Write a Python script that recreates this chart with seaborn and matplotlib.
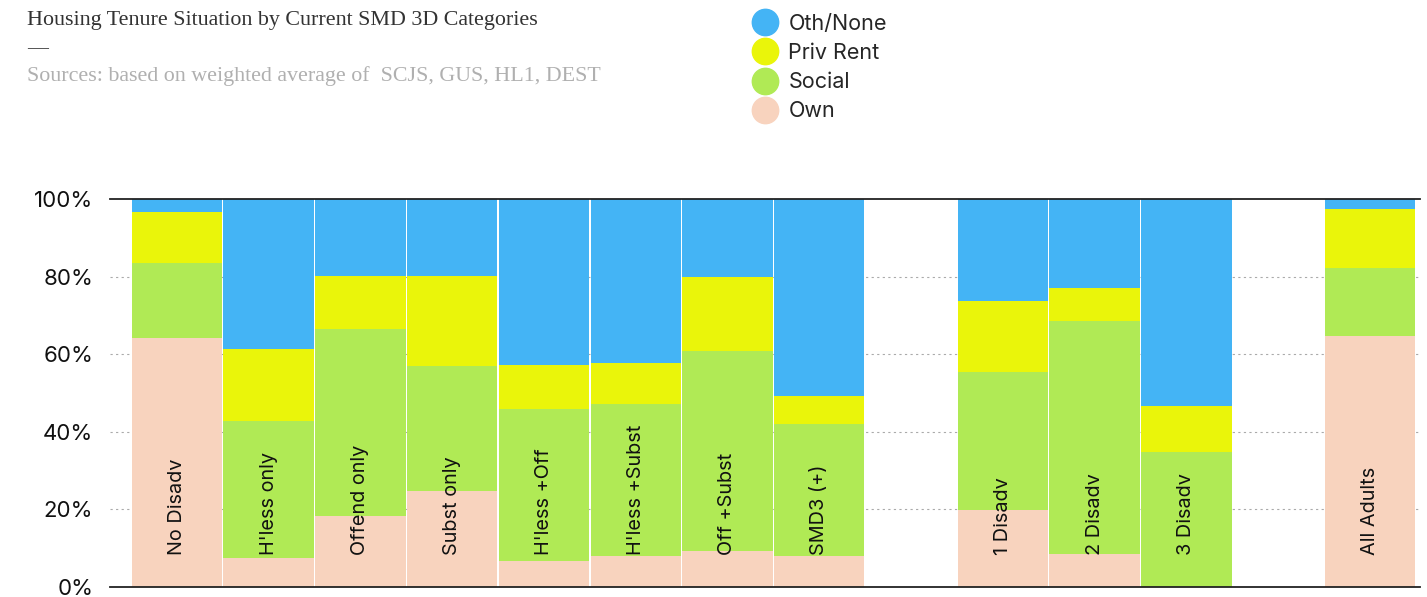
import matplotlib
matplotlib.use("Agg")
import matplotlib.pyplot as plt
import seaborn as sns
import pandas as pd
from matplotlib.lines import Line2D

categories = ["No Disadv", "H'less only", "Offend only", "Subst only", "H'less +Off",
              "H'less +Subst", "Off +Subst", "SMD3 (+)", "1 Disadv", "2 Disadv",
              "3 Disadv", "All Adults"]
own = [64.2, 7.5, 18.3, 24.7, 6.7, 8.0, 9.3, 8.0, 19.8, 8.5, 0.0, 64.7]
social = [19.3, 35.3, 48.2, 32.3, 39.2, 39.2, 51.5, 34.0, 35.6, 60.1, 34.8, 17.5]
priv_rent = [13.1, 18.5, 13.7, 23.2, 11.3, 10.5, 19.1, 7.2, 18.3, 8.5, 11.8, 15.2]
oth_none = [3.4, 38.7, 19.8, 19.8, 42.8, 42.3, 20.1, 50.8, 26.3, 22.9, 53.4, 2.6]
series_names = ["Oth/None", "Priv Rent", "Social", "Own"]
colors = {"Oth/None": "#44B4F5", "Priv Rent": "#EAF50A", "Social": "#B0EA55", "Own": "#F8D3BE"}

order = categories[:8] + [" "] + categories[8:11] + ["  "] + categories[11:]

df = pd.DataFrame({"cat": categories, "Own": own, "Social": social,
                   "Priv Rent": priv_rent, "Oth/None": oth_none})
df["c_own"] = df["Own"]
df["c_social"] = df["c_own"] + df["Social"]
df["c_priv"] = df["c_social"] + df["Priv Rent"]
df["c_oth"] = df["c_priv"] + df["Oth/None"]

sns.set_theme(style="white")
plt.rcParams["font.family"] = ["Inter", "DejaVu Sans"]

fig = plt.figure(figsize=(14.27, 5.97), dpi=100)
ax = fig.add_axes([0.077, 0.0168, 0.918, 0.6499])

layers = [("c_oth", "Oth/None"), ("c_priv", "Priv Rent"), ("c_social", "Social"), ("c_own", "Own")]
for col, name in layers:
    sns.barplot(data=df, x="cat", y=col, order=order, color=colors[name], width=0.985,
                saturation=1, linewidth=0, ax=ax, errorbar=None, zorder=2)

ax.set_ylim(0, 100)
ax.set_xlim(-0.73, 13.545)
ax.set_yticks([0, 20, 40, 60, 80, 100])
ax.set_yticklabels([f"{v}%" for v in [0, 20, 40, 60, 80, 100]], fontsize=16, color="#111111")
ax.tick_params(axis="y", length=0, pad=12)
ax.set_xticks([])
ax.set_xlabel("")
ax.set_ylabel("")
for v in [20, 40, 60, 80]:
    ax.axhline(v, color="#aaaaaa", linestyle=(0, (2, 3)), linewidth=0.8, zorder=1)
for s in ["left", "right"]:
    ax.spines[s].set_visible(False)
ax.spines["top"].set_color("#222222")
ax.spines["bottom"].set_color("#222222")
ax.spines["top"].set_linewidth(1.3)
ax.spines["bottom"].set_linewidth(1.3)

for i, cat in enumerate(order):
    if cat.strip():
        ax.text(i, 8.2, cat, rotation=90, ha="center", va="bottom", fontsize=14.3,
                color="#111111", zorder=5)

# Titles
fig.text(0.019, 0.965, "Housing Tenure Situation by Current SMD 3D Categories",
         family=["Liberation Serif", "DejaVu Serif"], fontsize=15.8, color="#333333", va="center")
fig.text(0.019, 0.918, "—", family=["Liberation Serif", "DejaVu Serif"], fontsize=15,
         color="#333333", va="center")
fig.text(0.019, 0.873, "Sources: based on weighted average of  SCJS, GUS, HL1, DEST",
         family=["Liberation Serif", "DejaVu Serif"], fontsize=15.8, color="#b0b0b0", va="center")

handles = [Line2D([0], [0], marker="o", linestyle="", markersize=19,
                  markerfacecolor=colors[n], markeredgecolor=colors[n]) for n in series_names]
fig.legend(handles, series_names, loc="upper left", bbox_to_anchor=(0.511, 1.0),
           frameon=False, fontsize=15.5, handletextpad=0.1, labelspacing=0.42,
           borderaxespad=0.25)

fig.savefig("out.png", dpi=100)
